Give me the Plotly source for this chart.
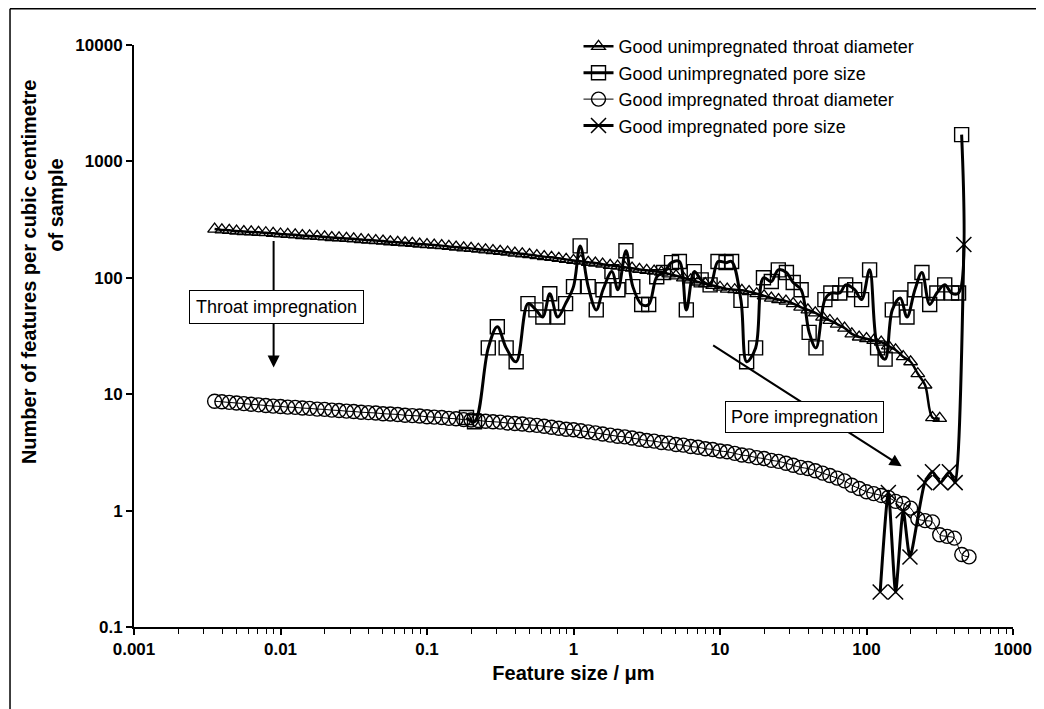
import plotly.graph_objects as go

# ---------------- data ----------------
throat_x = [0.00355, 0.00398, 0.00447, 0.00501, 0.00562, 0.00631, 0.00708, 0.00794, 0.00891,
            0.0100, 0.0112, 0.0126, 0.0141, 0.0158, 0.0178, 0.0200, 0.0224, 0.0251, 0.0282,
            0.0316, 0.0355, 0.0398, 0.0447, 0.0501, 0.0562, 0.0631, 0.0708, 0.0794, 0.0891,
            0.100, 0.112, 0.126, 0.141, 0.158, 0.178, 0.200, 0.224, 0.251, 0.282,
            0.316, 0.355, 0.398, 0.447, 0.501, 0.562, 0.631, 0.708, 0.794, 0.891,
            1.00, 1.12, 1.26, 1.41, 1.58, 1.78, 2.00, 2.24, 2.51, 2.82,
            3.16, 3.55, 3.98, 4.47, 5.01, 5.62, 6.31, 7.08, 7.94, 8.91,
            10.0, 11.2, 12.6, 14.1, 15.8, 17.8, 20.0, 22.4, 25.1, 28.2,
            31.6, 35.5, 39.8, 44.7, 50.1, 56.2, 63.1, 70.8, 79.4, 89.1,
            100, 112, 126, 141, 158, 178, 200, 224, 251, 282,
            316, 355, 398, 447, 501]

unimp_throat_y = [262, 258, 256, 252, 250, 248, 246, 244, 241,
                  238, 236, 234, 231, 229, 227, 225, 222, 220, 218,
                  216, 213, 211, 209, 207, 204, 202, 200, 198, 195,
                  193, 191, 189, 186, 184, 181, 179, 176, 174, 171,
                  169, 166, 163, 161, 158, 155, 152, 150, 147, 144,
                  141, 139, 136, 134, 131, 128, 126, 123, 121, 118,
                  116, 114, 112, 108, 104, 100, 96, 92, 89, 86,
                  83, 80, 79, 78, 76, 73, 70, 67, 65, 63,
                  60, 56, 53, 50, 46, 43, 40, 37, 33, 31,
                  30, 29, 28, 26, 24, 21, 19, 15, 12, 6.3,
                  6.2]

imp_throat_y = [8.7, 8.6, 8.5, 8.4, 8.3, 8.2, 8.1, 8.0, 7.9,
                7.85, 7.75, 7.7, 7.6, 7.55, 7.45, 7.4, 7.3, 7.25, 7.15,
                7.1, 7.0, 6.95, 6.9, 6.8, 6.75, 6.7, 6.6, 6.55, 6.5,
                6.4, 6.35, 6.3, 6.2, 6.15, 6.05, 6.0, 5.95, 5.85, 5.8,
                5.75, 5.65, 5.6, 5.55, 5.45, 5.4, 5.3, 5.2, 5.1, 5.0,
                4.95, 4.85, 4.75, 4.65, 4.55, 4.45, 4.35, 4.3, 4.2, 4.1,
                4.0, 3.95, 3.85, 3.8, 3.7, 3.65, 3.55, 3.5, 3.4, 3.35,
                3.25, 3.2, 3.1, 3.0, 2.95, 2.85, 2.8, 2.7, 2.65, 2.55,
                2.45, 2.35, 2.3, 2.2, 2.1, 2.0, 1.9, 1.8, 1.65, 1.55,
                1.45, 1.4, 1.35, 1.3, 1.2, 1.15, 1.05, 0.85, 0.82, 0.8,
                0.62, 0.6, 0.58, 0.42, 0.4]

unimp_pore_x = [0.186, 0.211, 0.262, 0.302, 0.347, 0.406, 0.489, 0.554, 0.618, 0.689,
                0.780, 0.883, 1.00, 1.11, 1.26, 1.43, 1.59, 1.83, 2.01, 2.28,
                2.54, 2.92, 3.26, 3.70, 4.12, 4.67, 5.28, 5.89, 6.67, 7.44,
                8.56, 9.69, 11.0, 12.0, 13.9, 15.2, 17.5, 19.8, 22.4, 25.0,
                28.4, 31.6, 35.8, 40.6, 45.2, 52.0, 57.1, 65.7, 72.1, 83.0,
                92.6, 105, 119, 134, 150, 170, 189, 214, 239, 270,
                302, 342, 381, 425, 446]
unimp_pore_y = [6.3, 5.8, 25, 38, 25, 19, 60, 53, 46, 73,
                46, 60, 84, 188, 84, 53, 79, 113, 79, 171,
                84, 59, 59, 102, 111, 135, 138, 53, 113, 96,
                87, 138, 135, 138, 64, 19, 25, 100, 93, 117,
                111, 91, 79, 34, 25, 65, 74, 74, 87, 79,
                65, 117, 25, 20, 53, 67, 46, 79, 111, 59,
                74, 87, 74, 74, 1700]

imp_pore_x = [124, 141, 158, 178, 198, 250, 282, 320, 368, 403, 462]
imp_pore_y = [0.2, 1.43, 0.2, 1.0, 0.4, 1.74, 2.16, 1.74, 2.16, 1.74, 193]

x_tickvals = [0.001, 0.01, 0.1, 1, 10, 100, 1000]
x_ticktext = ["0.001", "0.01", "0.1", "1", "10", "100", "1000"]
y_tickvals = [0.1, 1, 10, 100, 1000, 10000]
y_ticktext = ["0.1", "1", "10", "100", "1000", "10000"]

FONT = "Arial, 'Liberation Sans', sans-serif"

fig = go.Figure()

fig.add_trace(go.Scatter(
    x=throat_x[:len(unimp_throat_y)], y=unimp_throat_y, mode="lines+markers",
    name="Good unimpregnated throat diameter",
    line=dict(color="black", width=2.5, shape="spline"),
    marker=dict(symbol="triangle-up-open", size=12, color="black", line=dict(width=1.3, color="black"))))

fig.add_trace(go.Scatter(
    x=unimp_pore_x, y=unimp_pore_y, mode="lines+markers",
    name="Good unimpregnated pore size",
    line=dict(color="black", width=3, shape="spline", smoothing=1),
    marker=dict(symbol="square-open", size=14, color="black", line=dict(width=1.4, color="black"))))

fig.add_trace(go.Scatter(
    x=throat_x[:len(imp_throat_y)], y=imp_throat_y, mode="lines+markers",
    name="Good impregnated throat diameter",
    line=dict(color="black", width=1, shape="spline"),
    marker=dict(symbol="circle-open", size=14, color="black", line=dict(width=1.4, color="black"))))

fig.add_trace(go.Scatter(
    x=imp_pore_x, y=imp_pore_y, mode="lines+markers",
    name="Good impregnated pore size",
    line=dict(color="black", width=3, shape="spline", smoothing=0.6),
    marker=dict(symbol="x-thin-open", size=15, color="black", line=dict(width=1.5, color="black"))))

# page offset of 8 px (body margin) is compensated in the figure size
W, H = 1036, 701
L, R, T, B = 126, 22, 37, 82
pw, ph = W - L - R, H - T - B

# outer frame (top and left edges visible)
fx0 = (0.75 - L) / pw
fy1 = 1 + (T - 0.75) / ph
fig.add_shape(type="line", xref="paper", yref="paper", x0=fx0, x1=(W + 5 - L) / pw, y0=fy1, y1=fy1,
              line=dict(color="black", width=1.5))
fig.add_shape(type="line", xref="paper", yref="paper", x0=fx0, x1=fx0, y0=fy1, y1=-(B + 5) / ph,
              line=dict(color="black", width=1.5))

# Annotations: arrows and labelled boxes
fig.add_annotation(x=-2.047, y=1.229, xref="x", yref="y", ax=0, ay=-128,
                   showarrow=True, arrowhead=2, arrowsize=1.2, arrowwidth=2, arrowcolor="black", text="")
fig.add_annotation(x=-2.03, y=1.753, xref="x", yref="y", text="Throat impregnation", showarrow=False,
                   font=dict(family=FONT, size=18, color="black"), bgcolor="white",
                   bordercolor="black", borderwidth=1, borderpad=6)
fig.add_annotation(x=2.24, y=0.38, xref="x", yref="y", ax=-190, ay=-122,
                   showarrow=True, arrowhead=2, arrowsize=1.2, arrowwidth=2, arrowcolor="black", text="")
fig.add_annotation(x=1.575, y=0.808, xref="x", yref="y", text="Pore impregnation", showarrow=False,
                   font=dict(family=FONT, size=18, color="black"), bgcolor="white",
                   bordercolor="black", borderwidth=1, borderpad=5)

# y-axis title (two lines)
fig.add_annotation(xref="paper", yref="paper", x=(20 - L) / pw, y=(H - B - 264) / ph,
                   xanchor="center", yanchor="middle",
                   text="<b>Number of features per cubic centimetre</b>", textangle=-90,
                   showarrow=False, font=dict(family=FONT, size=20, color="black"))
fig.add_annotation(xref="paper", yref="paper", x=(47 - L) / pw, y=(H - B - 197) / ph,
                   xanchor="center", yanchor="middle",
                   text="<b>of sample</b>", textangle=-90,
                   showarrow=False, font=dict(family=FONT, size=20, color="black"))

fig.update_layout(
    width=W, height=H,
    margin=dict(l=L, r=R, t=T, b=B),
    paper_bgcolor="white", plot_bgcolor="white",
    font=dict(family=FONT, color="black"),
    showlegend=True,
    legend=dict(x=0.5057, y=1.029, xanchor="left", yanchor="top", bgcolor="rgba(0,0,0,0)",
                font=dict(family=FONT, size=18, color="black"), itemwidth=30, tracegroupgap=0),
    xaxis=dict(type="log", range=[-3, 3], showgrid=False, zeroline=False,
               showline=True, linecolor="black", linewidth=2,
               ticks="outside", ticklen=6, tickwidth=1.5, tickcolor="black",
               tickvals=x_tickvals, ticktext=x_ticktext,
               tickfont=dict(family=FONT, size=17, color="black", weight="bold"),
               minor=dict(ticks="outside", ticklen=5, tickwidth=1.2, tickcolor="black",
                          dtick="D1", showgrid=False),
               title=dict(text="<b>Feature size / μm</b>", standoff=8,
                          font=dict(family=FONT, size=20, color="black"))),
    yaxis=dict(type="log", range=[-1, 4], showgrid=False, zeroline=False,
               showline=True, linecolor="black", linewidth=2,
               ticks="outside", ticklen=6, tickwidth=1.5, tickcolor="black",
               tickvals=y_tickvals, ticktext=y_ticktext,
               tickfont=dict(family=FONT, size=17, color="black", weight="bold")),
)

fig.write_html("out.html")
